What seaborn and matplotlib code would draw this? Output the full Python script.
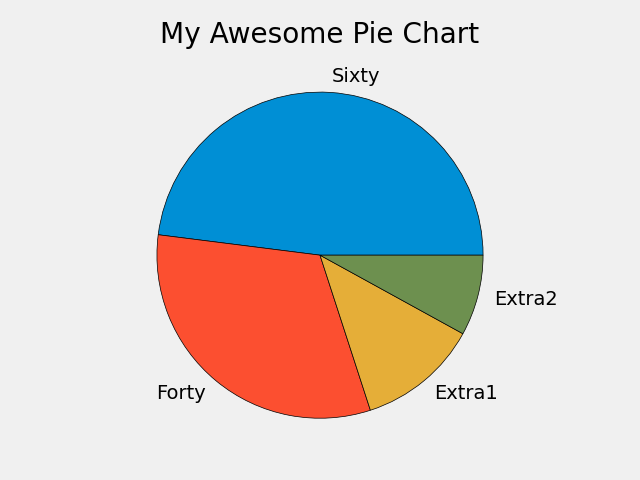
import matplotlib
matplotlib.use("Agg")
import matplotlib.pyplot as plt
import seaborn as sns

# Datos del grafico
etiquetas = ['Sixty', 'Forty', 'Extra1', 'Extra2']
valores = [60, 40, 15, 10]

plt.style.use('fivethirtyeight')
colores = sns.color_palette(['#008fd5', '#fc4f30', '#e5ae38', '#6d904f'])

fig, ax = plt.subplots(figsize=(6.4, 4.8), dpi=100)
ax.pie(valores, labels=etiquetas, colors=colores,
       wedgeprops={'edgecolor': 'black'})
ax.set_title('My Awesome Pie Chart')
plt.tight_layout()
plt.savefig('out.png')
